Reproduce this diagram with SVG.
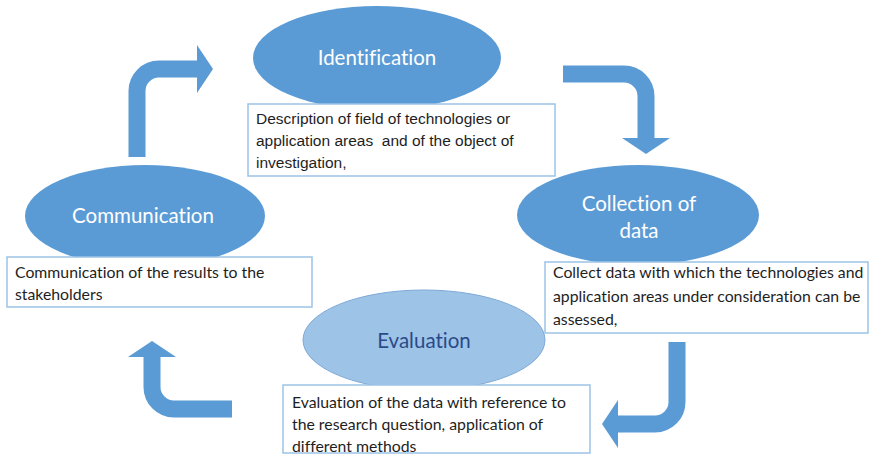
<svg xmlns="http://www.w3.org/2000/svg" width="872" height="457" viewBox="0 0 872 457">
  <style>
    text { font-variant-ligatures: none; }
    .oval { fill: #5b9bd5; }
    .oval-light { fill: #9dc3e6; stroke: #7fa9d8; stroke-width: 1; }
    .title { font-family: Lato, "Open Sans", sans-serif; font-size: 20.5px; fill: #ffffff; text-anchor: middle; }
    .title-dark { fill: #2b4a8a; }
    .box { fill: #ffffff; stroke: #9dc3e6; stroke-width: 1.5; }
    .desc { font-family: Lato, "Open Sans", sans-serif; font-size: 15.8px; fill: #1e1e1e; }
    .desc-arial { font-family: "Liberation Sans", Arial, sans-serif; font-size: 15.5px; fill: #1e1e1e; }
    .flow { fill: none; stroke: #5b9bd5; stroke-width: 17; }
  </style>
  <defs>
    <marker id="head" markerUnits="userSpaceOnUse" viewBox="0 0 16 48" refX="1" refY="24" markerWidth="16" markerHeight="48" orient="auto">
      <path d="M0,0 L16,24 L0,48 z" fill="#5b9bd5"/>
    </marker>
  </defs>

  <rect width="872" height="457" fill="#ffffff"/>

  <!-- curved cycle arrows -->
  <g id="connectors">
    <path class="flow" d="M137,157 V91 A22,22 0 0 1 159,69 H198" marker-end="url(#head)"/>
    <path class="flow" d="M563,74 H624 A22,22 0 0 1 646,96 V139" marker-end="url(#head)"/>
    <path class="flow" d="M677,342 V402 A22,22 0 0 1 655,424 H617" marker-end="url(#head)"/>
    <path class="flow" d="M232,409 H174 A22,22 0 0 1 152,387 V356" marker-end="url(#head)"/>
  </g>

  <g id="identification">
    <ellipse class="oval" cx="377" cy="58" rx="124" ry="52"/>
    <text class="title" x="377" y="65">Identification</text>
    <rect class="box" x="248" y="104" width="307" height="72"/>
    <text class="desc-arial" x="256" y="124">Description of field of technologies or</text>
    <text class="desc-arial" x="256" y="146">application areas&#160; and of the object of</text>
    <text class="desc-arial" x="256" y="168">investigation,</text>
  </g>

  <g id="collection">
    <ellipse class="oval" cx="638" cy="215" rx="121" ry="50"/>
    <text class="title" x="639" y="211">Collection of</text>
    <text class="title" x="639" y="238">data</text>
  </g>

  <g id="evaluation">
    <ellipse class="oval-light" cx="424" cy="340" rx="121" ry="50"/>
    <text class="title title-dark" x="424" y="348">Evaluation</text>
    <rect class="box" x="283" y="385" width="307" height="68"/>
    <text class="desc" x="292" y="408">Evaluation of the data with reference to</text>
    <text class="desc" x="292" y="430">the research question, application of</text>
    <text class="desc" x="292" y="452">different methods</text>
  </g>

  <g id="collection-note">
    <rect class="box" x="545" y="262" width="323" height="71"/>
    <text class="desc" x="553" y="278">Collect data with which the technologies and</text>
    <text class="desc" x="553" y="302">application areas under consideration can be</text>
    <text class="desc" x="553" y="325">assessed,</text>
  </g>

  <g id="communication">
    <ellipse class="oval" cx="145" cy="216" rx="120" ry="51"/>
    <text class="title" x="143" y="223">Communication</text>
    <rect class="box" x="7" y="257" width="305" height="50"/>
    <text class="desc" x="15" y="278">Communication of the results to the</text>
    <text class="desc" x="15" y="300">stakeholders</text>
  </g>
</svg>
